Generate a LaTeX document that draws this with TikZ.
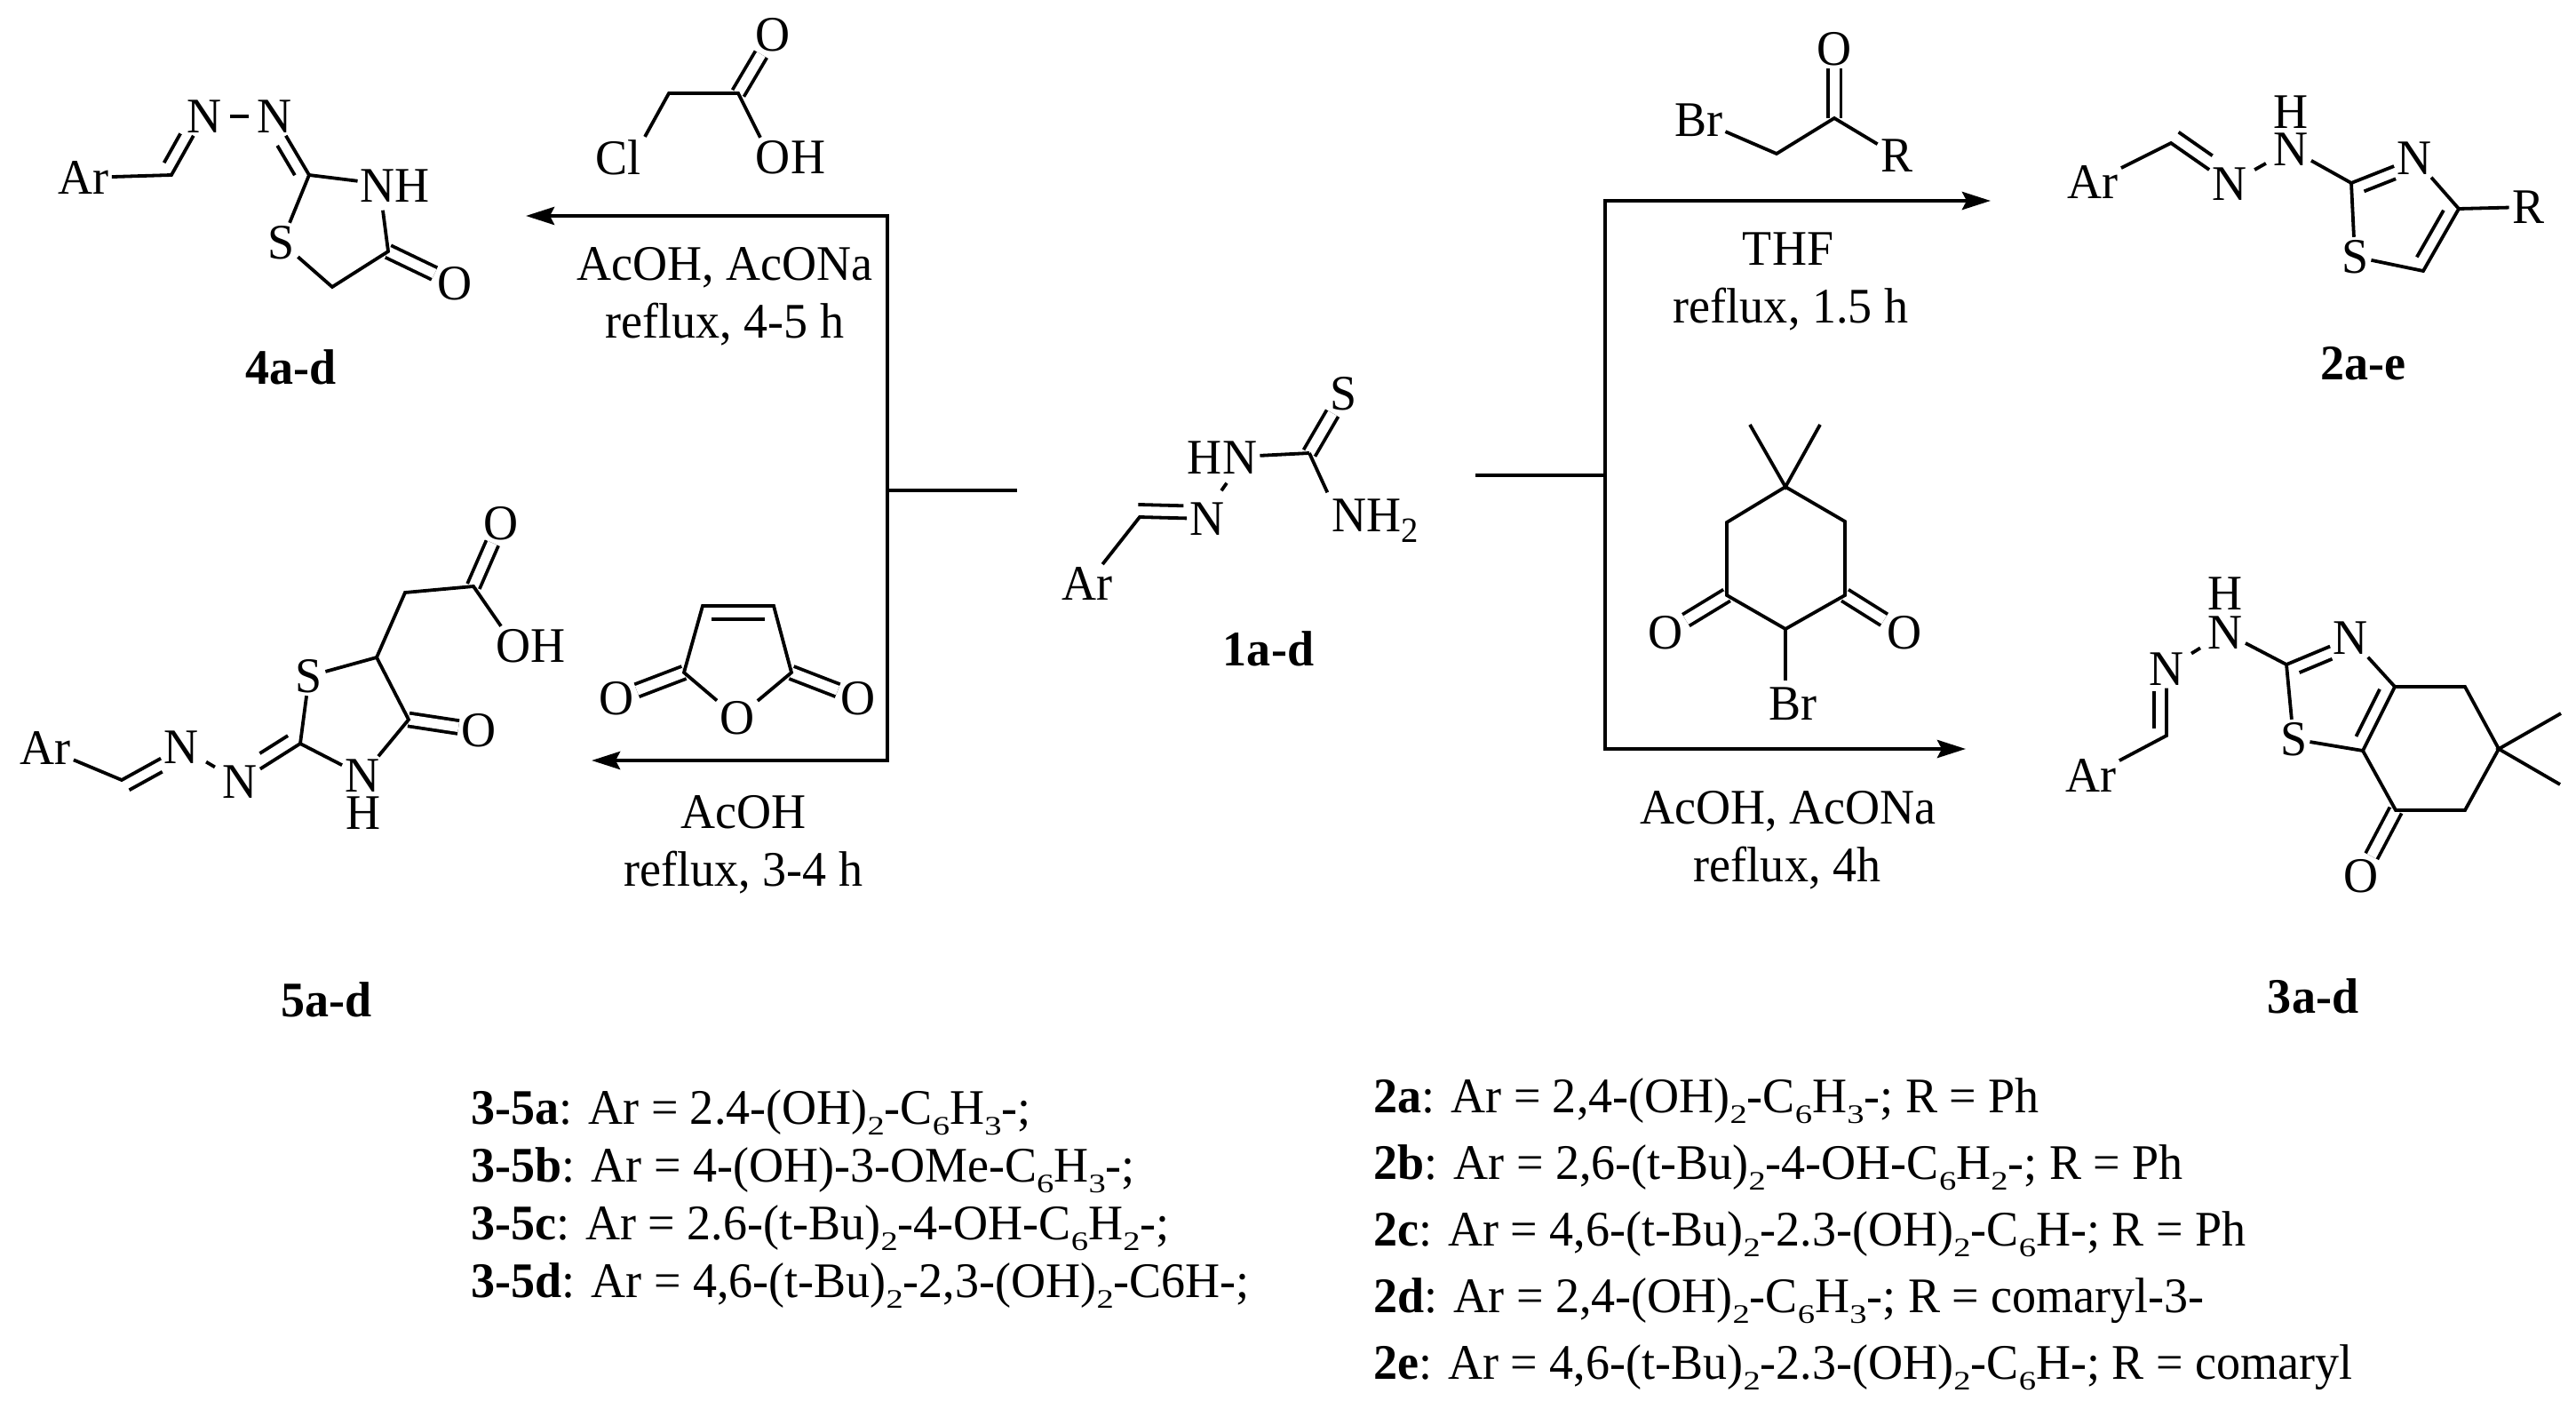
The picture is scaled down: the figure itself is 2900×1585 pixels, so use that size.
\documentclass[tikz,border=0pt]{standalone}
\usepackage{graphicx}
\usepackage{fontspec}
\setmainfont[FakeStretch=0.965]{Liberation Serif}
\usetikzlibrary{calc}
\usetikzlibrary{arrows.meta}

\tikzset{
    atom/.style={inner sep=1.5pt, font=\fontsize{28}{28}\selectfont},
    hatom/.style={atom, inner sep=0pt},
    txt/.style={anchor=base, inner sep=0pt, font=\fontsize{28}{28}\selectfont},
    lab/.style={txt, font=\fontsize{28}{28}\selectfont\bfseries},
    lst/.style={anchor=base west, inner sep=0pt, font=\fontsize{28}{28}\selectfont},
    bond/.style={line width=1.9pt},
    link/.style={bond, shorten <=3pt, shorten >=3pt},
    dbl/.style={bond, double, double distance=5.5pt},
    rxn/.style={line width=2.3pt, {Stealth[length=16pt,width=10pt,inset=2.5pt]}-{Stealth[length=16pt,width=10pt,inset=2.5pt]}},
    stub/.style={line width=2.3pt}
}
% second line of a double bond: from, to, side offset, shorten at both ends
\newcommand{\ibond}[5]{\draw[bond, shorten <=#4, shorten >=#5] ($(#1)!#3!90:(#2)$) -- ($(#2)!#3!-90:(#1)$);}
% subscript as wide and as low as in the formula lines
\newcommand{\sbs}[1]{\raisebox{-6pt}{\scalebox{1}[0.75]{\fontsize{20}{20}\selectfont #1}}}

\begin{document}
\begin{tikzpicture}[x=0.5pt,y=-0.5pt]
    \useasboundingbox (0,0) rectangle (2900,1585);

    % Reaction lines
    \coordinate (lt) at (592,243);
    \coordinate (lc1) at (999,243);
    \coordinate (lc2) at (999,856);
    \coordinate (lb) at (666,856);
    \coordinate (ls1) at (999,552);
    \coordinate (ls2) at (1145,552);
    \draw[rxn] (lt) -- (lc1) -- (lc2) -- (lb);
    \draw[stub] (ls1) -- (ls2);
    \coordinate (rt) at (2241,226);
    \coordinate (rc1) at (1807,226);
    \coordinate (rc2) at (1807,843);
    \coordinate (rb) at (2213,843);
    \coordinate (rs1) at (1661,535);
    \coordinate (rs2) at (1807,535);
    \draw[rxn] (rt) -- (rc1) -- (rc2) -- (rb);
    \draw[stub] (rs1) -- (rs2);

    % Conditions
    \node[txt] (c1a) at (816,315) {AcOH, AcONa};
    \node[txt] (c1b) at (816,380) {reflux, 4-5 h};
    \node[txt] (c2a) at (837,932) {AcOH};
    \node[txt] (c2b) at (837,997) {reflux, 3-4 h};
    \node[txt] (c3a) at (2013,298) {THF};
    \node[txt] (c3b) at (2016,363) {reflux, 1.5 h};
    \node[txt] (c4a) at (2013,927) {AcOH, AcONa};
    \node[txt] (c4b) at (2012,992) {reflux, 4h};

    % Starting material 1a-d
    \node[atom] (p1ar) at (1224,657) {Ar};
    \node[atom] (p1n) at (1359,584) {N};
    \node[atom] (p1hn) at (1376,515) {HN};
    \node[atom] (p1s) at (1513,443) {S};
    \node[atom, anchor=base west] (p1nh) at (1496,598) {NH\raisebox{-6pt}{\fontsize{20}{20}\selectfont 2}};
    \coordinate (p1c1) at (1283,582);
    \coordinate (p1c2) at (1474,510);
    \draw[dbl] (p1c2) -- (p1s);
    \draw[bond] (p1ar) -- (p1c1) -- (p1n);
    \ibond{p1c1}{p1n}{7pt}{-1pt}{13.5pt}
    \draw[bond] ([xshift=2.5pt,yshift=-3.5pt]p1hn.south) -- ([xshift=8pt,yshift=5pt]p1n.north);
    \draw[bond] (p1hn) -- (p1c2);
    \draw[bond, shorten >=2pt] (p1c2) -- (p1nh.north west);
    \node[lab] (l1) at (1428,749) {1a-d};

    % Product 4a-d
    \node[atom] (p4ar) at (94,200) {Ar};
    \node[atom] (p4n1) at (230,131) {N};
    \node[atom] (p4n2) at (309,131) {N};
    \node[atom] (p4nh) at (445,209) {NH};
    \node[atom] (p4s) at (317,273) {S};
    \node[atom] (p4o) at (512,319) {O};
    \coordinate (p4c1) at (193,197);
    \coordinate (p4c2) at (348,197);
    \coordinate (p4c3) at (374,323);
    \coordinate (p4c4) at (437,283);
    \draw[dbl] (p4c4) -- (p4o);
    \draw[bond] (p4ar) -- (p4c1) -- (p4n1);
    \ibond{p4c1}{p4n1}{7pt}{4pt}{15pt}
    \draw[link] (p4n1) -- (p4n2);
    \draw[bond] (p4n2) -- (p4c2);
    \ibond{p4c2}{p4n2}{7pt}{4pt}{15pt}
    \draw[bond] (p4c2) -- (p4nh);
    \draw[bond] (p4c2) -- (p4s);
    \draw[bond] (p4s) -- (p4c3) -- (p4c4) -- ([xshift=-7pt,yshift=-3pt]p4nh.south);
    \node[lab] (l4) at (328,432) {4a-d};

    % Chloroacetic acid
    \node[atom] (aco) at (870,39) {O};
    \node[atom] (accl) at (696,177) {Cl};
    \node[atom] (acoh) at (890,177) {OH};
    \coordinate (acc1) at (753,105);
    \coordinate (acc2) at (831,105);
    \draw[dbl] (acc2) -- (aco);
    \draw[bond] ([xshift=15pt]accl.north) -- (acc1) -- (acc2) -- ([xshift=-17pt]acoh.north);

    % Product 5a-d
    \node[atom] (p5ar) at (51,842) {Ar};
    \node[atom] (p5n1) at (204,841) {N};
    \node[atom] (p5n2) at (270,880) {N};
    \node[atom] (p5n3) at (408,873) {N};
    \node[hatom] (p5h) at (409,915) {H};
    \node[atom] (p5s) at (348,761) {S};
    \node[atom] (p5o1) at (539,822) {O};
    \node[atom] (p5o2) at (564,589) {O};
    \node[atom] (p5oh) at (598,727) {OH};
    \coordinate (p5c1) at (137,878);
    \coordinate (p5c2) at (338,837);
    \coordinate (p5c3) at (424,740);
    \coordinate (p5c4) at (460,810);
    \coordinate (p5c5) at (456,667);
    \coordinate (p5c6) at (533,660);
    \draw[dbl] (p5c4) -- (p5o1);
    \draw[dbl] (p5c6) -- (p5o2);
    \draw[bond] (p5ar) -- (p5c1) -- (p5n1);
    \ibond{p5c1}{p5n1}{-7pt}{1pt}{16pt}
    \draw[link] (p5n1) -- (p5n2);
    \draw[bond] (p5n2) -- (p5c2);
    \ibond{p5c2}{p5n2}{-7.5pt}{3.5pt}{18pt}
    \draw[bond] (p5s) -- (p5c2) -- (p5n3);
    \draw[bond] (p5s) -- (p5c3) -- (p5c4) -- (p5n3);
    \draw[bond] (p5c3) -- (p5c5) -- (p5c6) -- ([xshift=-17pt]p5oh.north);
    \node[lab] (l5) at (368,1144) {5a-d};

    % Maleic anhydride
    \node[atom] (mao) at (830,808) {O};
    \node[atom] (mao1) at (694,786) {O};
    \node[atom] (mao2) at (966,786) {O};
    \coordinate (mac1) at (791,682);
    \coordinate (mac2) at (871,682);
    \coordinate (mac3) at (770,757);
    \coordinate (mac4) at (891,757);
    \draw[dbl] (mac3) -- (mao1);
    \draw[dbl] (mac4) -- (mao2);
    \draw[bond] (mao) -- (mac3) -- (mac1) -- (mac2) -- (mac4) -- (mao);
    \ibond{mac1}{mac2}{-7.5pt}{5pt}{5pt}

    % Bromoketone
    \node[atom] (bko) at (2065,55) {O};
    \node[atom] (bkbr) at (1912,135) {Br};
    \node[atom] (bkr) at (2135,175) {R};
    \coordinate (bkc1) at (2000,173);
    \coordinate (bkc2) at (2065,133);
    \draw[dbl] (bkc2) -- (bko);
    \draw[bond] (bkbr) -- (bkc1) -- (bkc2) -- (bkr);

    % Product 2a-e
    \node[atom] (p2ar) at (2356,205) {Ar};
    \node[atom] (p2n1) at (2510,207) {N};
    \node[atom] (p2n2) at (2579,168) {N};
    \node[hatom] (p2h) at (2579,126) {H};
    \node[atom] (p2n3) at (2718,178) {N};
    \node[atom] (p2s) at (2651,289) {S};
    \node[atom] (p2r) at (2846,233) {R};
    \coordinate (p2c1) at (2444,161);
    \coordinate (p2c2) at (2647,206);
    \coordinate (p2c3) at (2768,235);
    \coordinate (p2c4) at (2728,305);
    \draw[bond] (p2ar) -- (p2c1) -- (p2n1);
    \ibond{p2c1}{p2n1}{7.5pt}{0pt}{17pt}
    \draw[link] (p2n1) -- (p2n2);
    \draw[bond] (p2n2) -- (p2c2) -- (p2n3) -- (p2c3) -- (p2c4) -- (p2s) -- (p2c2);
    \ibond{p2c2}{p2n3}{-7pt}{5pt}{14pt}
    \ibond{p2c3}{p2c4}{-7pt}{5pt}{5pt}
    \draw[bond] (p2c3) -- (p2r);
    \node[lab] (l2) at (2660,427) {2a-e};

    % Bromodimedone
    \node[atom] (dmbr) at (2018,792) {Br};
    \node[atom] (dmo1) at (1875,712) {O};
    \node[atom] (dmo2) at (2144,712) {O};
    \coordinate (dmm1) at (1970,478);
    \coordinate (dmm2) at (2049,478);
    \coordinate (dmc1) at (2010,548);
    \coordinate (dmc2) at (1944,588);
    \coordinate (dmc3) at (2077,587);
    \coordinate (dmc4) at (1944,670);
    \coordinate (dmc5) at (2077,670);
    \coordinate (dmc6) at (2010,708);
    \coordinate (dmc7) at (2010,766);
    \draw[dbl] (dmc4) -- (dmo1);
    \draw[dbl] (dmc5) -- (dmo2);
    \draw[bond] (dmm1) -- (dmc1) -- (dmm2);
    \draw[bond] (dmc1) -- (dmc2) -- (dmc4) -- (dmc6) -- (dmc5) -- (dmc3) -- (dmc1);
    \draw[bond] (dmc6) -- (dmc7);

    % Product 3a-d
    \node[atom] (p3ar) at (2354,873) {Ar};
    \node[atom] (p3n1) at (2439,753) {N};
    \node[atom] (p3n2) at (2505,712) {N};
    \node[hatom] (p3h) at (2505,668) {H};
    \node[atom] (p3n3) at (2646,718) {N};
    \node[atom] (p3s) at (2582,832) {S};
    \node[atom] (p3o) at (2658,986) {O};
    \coordinate (p3c1) at (2439,828);
    \coordinate (p3c2) at (2574,748);
    \coordinate (p3c3) at (2696,773);
    \coordinate (p3c4) at (2660,845);
    \coordinate (p3c5) at (2775,773);
    \coordinate (p3c6) at (2813,843);
    \coordinate (p3c7) at (2775,912);
    \coordinate (p3c8) at (2697,912);
    \coordinate (p3m1) at (2883,803);
    \coordinate (p3m2) at (2882,883);
    \draw[dbl] (p3c8) -- (p3o);
    \draw[bond] (p3ar) -- (p3c1) -- (p3n1);
    \ibond{p3c1}{p3n1}{7pt}{4pt}{12.5pt}
    \draw[link] (p3n1) -- (p3n2);
    \draw[bond] (p3n2) -- (p3c2) -- (p3n3) -- (p3c3) -- (p3c4) -- (p3s) -- (p3c2);
    \ibond{p3c2}{p3n3}{-7pt}{5pt}{14pt}
    \ibond{p3c3}{p3c4}{-7pt}{5pt}{5.5pt}
    \draw[bond] (p3c3) -- (p3c5) -- (p3c6) -- (p3c7) -- (p3c8) -- (p3c4);
    \draw[bond] (p3m1) -- (p3c6) -- (p3m2);
    \node[lab] (l3) at (2604,1140) {3a-d};

    % Substituents of 3-5
    \node[lst] (sa) at (530,1265) {\textbf{3-5a}: Ar = 2.4-(OH)\sbs{2}-C\sbs{6}H\sbs{3}-;};
    \node[lst] (sb) at (530,1330) {\textbf{3-5b}: Ar = 4-(OH)-3-OMe-C\sbs{6}H\sbs{3}-;};
    \node[lst] (sc) at (530,1395) {\textbf{3-5c}: Ar = 2.6-(t-Bu)\sbs{2}-4-OH-C\sbs{6}H\sbs{2}-;};
    \node[lst] (sd) at (530,1460) {\textbf{3-5d}: Ar = 4,6-(t-Bu)\sbs{2}-2,3-(OH)\sbs{2}-C6H-;};

    % Substituents of 2
    \node[lst] (ta) at (1546,1252) {\textbf{2a}: Ar = 2,4-(OH)\sbs{2}-C\sbs{6}H\sbs{3}-; R = Ph};
    \node[lst] (tb) at (1546,1327) {\textbf{2b}: Ar = 2,6-(t-Bu)\sbs{2}-4-OH-C\sbs{6}H\sbs{2}-; R = Ph};
    \node[lst] (tc) at (1546,1402) {\textbf{2c}: Ar = 4,6-(t-Bu)\sbs{2}-2.3-(OH)\sbs{2}-C\sbs{6}H-; R = Ph};
    \node[lst] (td) at (1546,1477) {\textbf{2d}: Ar = 2,4-(OH)\sbs{2}-C\sbs{6}H\sbs{3}-; R = comaryl-3-};
    \node[lst] (te) at (1546,1552) {\textbf{2e}: Ar = 4,6-(t-Bu)\sbs{2}-2.3-(OH)\sbs{2}-C\sbs{6}H-; R = comaryl};
\end{tikzpicture}
\end{document}
